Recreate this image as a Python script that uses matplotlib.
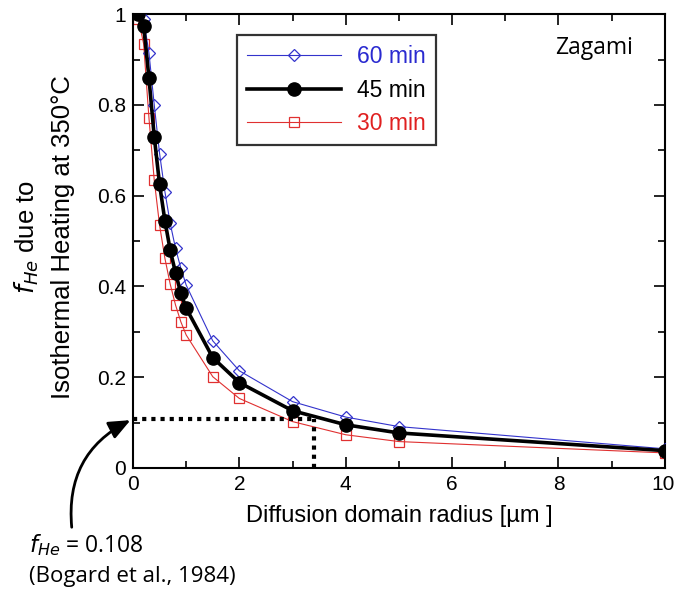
import matplotlib.pyplot as plt
import matplotlib.transforms as mtransforms
from matplotlib.ticker import MultipleLocator, FixedLocator, FixedFormatter

narrow = ['Liberation Sans', 'DejaVu Sans']
plain = ['Open Sans', 'DejaVu Sans']

# diffusion domain radius (um)
radius = [0.1, 0.2, 0.3, 0.4, 0.5, 0.6, 0.7, 0.8, 0.9, 1.0, 1.5, 2, 3, 4, 5, 10]
f_60 = [1.0, 0.99, 0.915, 0.80, 0.693, 0.609, 0.539, 0.484, 0.44, 0.403,
        0.28, 0.214, 0.146, 0.112, 0.091, 0.042]
f_45 = [1.0, 0.975, 0.86, 0.73, 0.625, 0.545, 0.48, 0.43, 0.385, 0.352,
        0.243, 0.188, 0.126, 0.095, 0.077, 0.038]
f_30 = [0.99, 0.935, 0.772, 0.634, 0.535, 0.462, 0.405, 0.359, 0.322, 0.293,
        0.201, 0.153, 0.102, 0.073, 0.058, 0.033]

f_bogard = 0.108
r_bogard = 3.4

fig = plt.figure(figsize=(6.75, 5.93), dpi=100)
ax = fig.add_axes([0.197, 0.211, 0.788, 0.765])

ax.plot(radius, f_60, color='#3333cc', lw=0.8, marker='D', ms=6.5,
        mfc='none', mec='#3333cc', mew=0.9, label='60 min', zorder=3)
ax.plot(radius, f_45, color='black', lw=2.6, marker='o', ms=9.5,
        mfc='black', mec='black', label='45 min', zorder=4)
ax.plot(radius, f_30, color='#e03030', lw=0.8, marker='s', ms=7,
        mfc='none', mec='#e03030', mew=0.9, label='30 min', zorder=2)

# Bogard et al. value
ax.plot([0, r_bogard], [f_bogard, f_bogard], color='black', lw=3,
        ls=(0, (1, 1.2)), zorder=5)
ax.plot([r_bogard, r_bogard], [0, f_bogard], color='black', lw=3,
        ls=(0, (1, 1.2)), zorder=5)

ax.set_xlim(0, 10)
ax.set_ylim(0, 1)
ax.xaxis.set_major_locator(MultipleLocator(2))
ax.xaxis.set_minor_locator(MultipleLocator(1))
ax.yaxis.set_major_locator(FixedLocator([0, 0.2, 0.4, 0.6, 0.8, 1.0]))
ax.yaxis.set_major_formatter(FixedFormatter(['0', '0.2', '0.4', '0.6', '0.8', '1']))
ax.yaxis.set_minor_locator(MultipleLocator(0.1))
ax.tick_params(which='both', direction='in', top=True, right=True, width=1.2)
ax.tick_params(which='major', length=8, labelsize=15, pad=5)
ax.tick_params(which='minor', length=5)
for s in ax.spines.values():
    s.set_linewidth(1.5)

ax.set_xlabel('Diffusion domain radius [µm ]', fontsize=17, family=narrow, labelpad=8)
fig.text(0.04, 0.60, r'$f_{He}$ due to', rotation=90, ha='center', va='center',
         fontsize=18.5, family=narrow)
fig.text(0.094, 0.60, 'Isothermal Heating at 350°C', rotation=90, ha='center',
         va='center', fontsize=18.5, family=narrow)

ax.text(0.94, 0.925, 'Zagami', transform=ax.transAxes, ha='right', va='center',
        fontsize=16.5, family=plain)

leg = ax.legend(loc='upper left', bbox_to_anchor=(0.195, 0.954), frameon=True,
                fancybox=False, edgecolor='black', handlelength=4.1,
                prop={'family': narrow, 'size': 16.5}, borderpad=0.45,
                labelspacing=0.45, handletextpad=0.7, borderaxespad=0)
leg.get_frame().set_linewidth(1.6)
for txt, c in zip(leg.get_texts(), ['#2a2ad0', 'black', '#e02020']):
    txt.set_color(c)

ax.annotate('', xy=(0, f_bogard), xycoords='data',
            xytext=(72, 63), textcoords='figure pixels',
            arrowprops=dict(arrowstyle='-|>,head_length=1.3,head_width=0.55',
                            color='black', lw=2,
                            connectionstyle='arc3,rad=-0.35'),
            annotation_clip=False)
fig.text(0.043, 0.081, r'$f_{He}$ = 0.108', fontsize=16.5, family=plain,
         ha='left', va='center')
fig.text(0.043, 0.027, '(Bogard et al., 1984)', fontsize=16, family=plain,
         ha='left', va='center')

fig.canvas.draw()
for lab in ax.get_xticklabels() + ax.get_yticklabels():
    lab.set_family(narrow)
# keep the "10" inside the figure
last = ax.xaxis.get_major_ticks()[-1].label1
if last.get_text() == '10':
    last.set_horizontalalignment('right')
    last.set_transform(last.get_transform() +
                       mtransforms.ScaledTranslation(10 / 100, 0, fig.dpi_scale_trans))
else:
    for t in ax.xaxis.get_major_ticks():
        if t.label1.get_text() == '10':
            t.label1.set_horizontalalignment('right')
            t.label1.set_transform(t.label1.get_transform() +
                                   mtransforms.ScaledTranslation(10 / 100, 0,
                                                                 fig.dpi_scale_trans))

fig.savefig('out.png', dpi=100)
